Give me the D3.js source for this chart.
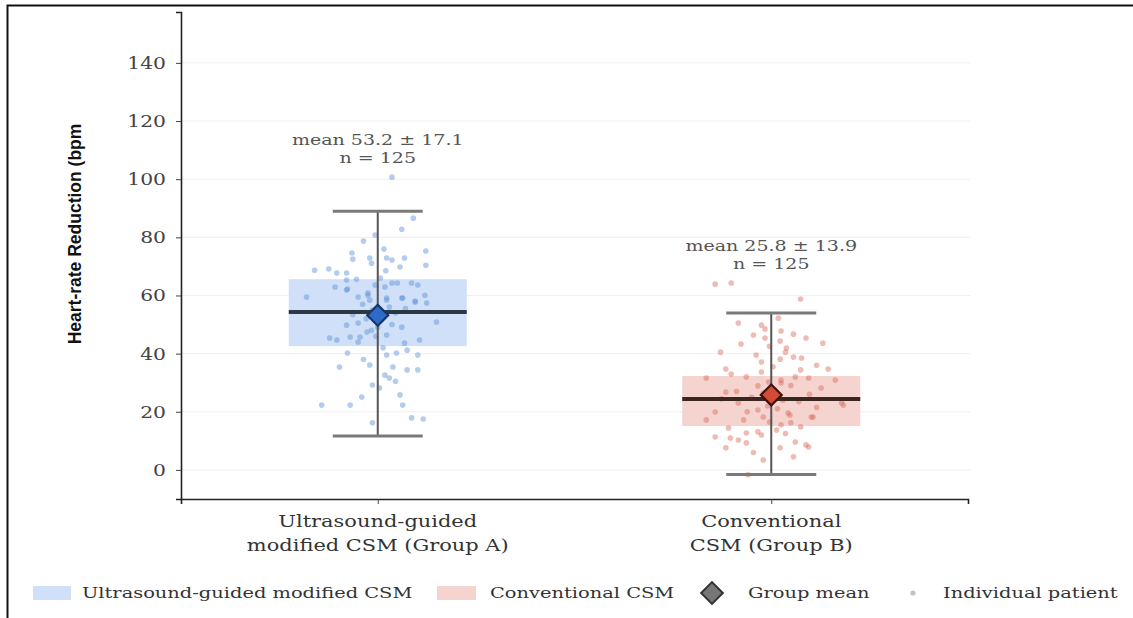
<!DOCTYPE html>
<html>
<head>
  <meta charset="utf-8">
  <title>Heart-rate reduction by group</title>
  <script src="https://d3js.org/d3.v7.min.js"></script>
  <style>
    body { margin: 0; background: #fff; }
    text { font-family: "DejaVu Serif", serif; }
  </style>
</head>
<body>
<script>
// ---- data ----
var groups = ['Ultrasound-guided\nmodified CSM (Group A)', 'Conventional\nCSM (Group B)'];
var legendLabels = ['Ultrasound-guided modified CSM', 'Conventional CSM', 'Group mean', 'Individual patient'];
var means = [53.2, 25.8];
var sds = [17.1, 13.9];
var counts = [125, 125];
var q1 = [42.6, 15.1];
var medians = [54.3, 24.4];
var q3 = [65.6, 32.3];
var whiskerLow = [11.7, -1.6];
var whiskerHigh = [89.0, 54.0];
var yTicks = [0, 20, 40, 60, 80, 100, 120, 140];

// individual patients: value (bpm) and horizontal jitter (fraction of box half-width)
var groupAValues = [100.7, 86.6, 82.8, 78.7, 80.8, 74.6, 72.5, 75.3, 70.4, 72.9, 69.8, 72.9, 71.1, 72.9, 72.2,
  68.7, 69.1, 67.7, 67.7, 65.3, 65.6, 62.9, 62.2, 59.5, 59.5, 60.1, 63.6, 62.9, 64.3, 64.3, 64.3, 63.6, 60.1,
  57.4, 58.1, 59.1, 59.1, 61.9, 60.8, 58.4, 58.4, 59.1, 57.7, 50.9, 49.1, 46.4, 47.4, 45.7, 49.8, 50.5, 45.7,
  45.4, 44.7, 49.1, 44.0, 44.7, 43.6, 40.2, 39.5, 40.2, 41.2, 39.5, 35.4, 36.1, 35.4, 34.4, 34.4, 32.6, 31.6,
  29.2, 28.2, 25.1, 25.8, 22.3, 22.3, 22.3, 17.9, 17.5, 16.2, 55.0, 53.0, 52.0, 56.0, 51.5, 54.0, 48.0, 57.0,
  53.5, 55.5, 50.0, 46.0, 42.0, 38.0, 30.5, 66.0, 68.5, 76.0];
var groupAJitter = [0.16, 0.40, 0.27, -0.16, -0.03, -0.29, -0.28, 0.54, 0.54, 0.30, 0.25, -0.09, -0.07, 0.10, 0.16,
  -0.71, -0.55, -0.46, -0.35, -0.35, -0.24, -0.48, -0.34, -0.80, -0.22, -0.11, -0.03, 0.08, 0.16, 0.22, 0.38, 0.45, 0.53,
  0.55, 0.42, 0.28, 0.10, -0.35, -0.11, -0.09, 0.10, 0.27, 0.42, 0.66, 0.27, 0.10, -0.12, -0.20, -0.35, -0.22, -0.31,
  -0.54, -0.46, 0.00, -0.22, 0.47, 0.30, -0.34, 0.10, 0.21, 0.33, 0.45, -0.43, -0.09, 0.17, 0.33, 0.45, 0.08, 0.13,
  -0.06, 0.02, -0.18, 0.25, -0.63, -0.31, 0.28, 0.38, 0.51, -0.06, -0.06, 0.07, -0.13, 0.13, 0.03, 0.20, -0.07, -0.17,
  -0.28, 0.31, 0.16, -0.02, 0.06, -0.16, 0.20, 0.03, 0.09, 0.07];
var groupBValues = [63.9, 64.3, 58.8, 50.5, 49.8, 48.5, 52.2, 47.8, 46.7, 45.4, 43.6, 46.4, 45.4, 44.3, 43.3,
  41.9, 40.5, 39.5, 40.5, 37.1, 38.1, 38.8, 38.5, 34.7, 33.7, 34.4, 34.7, 31.6, 32.0, 30.9, 32.0, 31.6, 30.9,
  26.8, 29.9, 28.2, 23.0, 19.9, 17.2, 23.0, 20.6, 18.2, 19.6, 18.2, 16.2, 14.8, 14.4, 11.3, 11.0, 10.3, 12.7,
  13.1, 9.3, 7.6, 13.7, 7.6, 9.6, 8.6, 3.4, 4.5, -1.7, 30.2, 28.9, 17.2, 12.0, 18.9, 7.9, 22.3, 18.2, 26.5,
  24.0, 22.0, 27.5, 21.0, 25.0, 29.0, 20.0, 23.5, 26.0, 16.5, 15.5, 35.5, 42.5, 24.5, 27.0, 21.5, 12.5, 6.0,
  36.0, 33.0];
var groupBJitter = [-0.63, -0.45, 0.33, -0.37, -0.11, -0.07, 0.08, 0.11, 0.25, 0.39, 0.58, -0.20, -0.07, 0.10, -0.34,
  0.17, -0.57, -0.17, 0.16, -0.11, 0.10, 0.25, 0.34, -0.51, -0.11, 0.33, 0.64, -0.73, -0.28, 0.11, 0.27, 0.42, 0.72,
  -0.51, 0.11, 0.56, 0.79, -0.63, -0.73, -0.37, -0.15, -0.09, 0.19, 0.45, 0.22, 0.33, -0.48, -0.63, -0.46, -0.37, -0.28,
  -0.15, -0.28, -0.51, 0.06, 0.10, 0.27, 0.39, -0.09, 0.25, -0.26, -0.03, -0.15, -0.31, -0.11, 0.21, 0.42, 0.81, 0.47,
  -0.09, 0.13, -0.04, 0.04, 0.07, -0.22, 0.22, -0.27, 0.31, 0.43, -0.02, 0.11, 0.02, -0.02, -0.56, -0.39, 0.51, 0.16,
  -0.20, 0.51, -0.45];

var boxFill = ['#cfe0f8', '#f5d4d0'];
var dotFill = ['#5a90d4', '#d86a5c'];
var meanFill = ['#2c6cc6', '#d24c36'];
var meanStroke = ['#153766', '#3d130c'];
var medianStroke = ['#2b3743', '#3b2622'];

var width = 1133, height = 618;
var stretch = 1.27; // the figure's lettering is drawn wide
var svg = d3.select('body').append('svg').attr('width', width).attr('height', height);

// text placed at (tx, ty), widened horizontally
function wideText(parent, tx, ty, str, anchor) {
  return parent.append('text')
    .attr('transform', 'translate(' + tx + ',' + ty + ') scale(' + stretch + ',1)')
    .attr('text-anchor', anchor || 'start')
    .text(str);
}

// outer frame (top and left edges only)
svg.append('path').attr('d', 'M7.5,' + height + 'V5.5H' + width)
  .attr('fill', 'none').attr('stroke', '#111').attr('stroke-width', 2);

var plotLeft = 181, plotRight = 968, plotTop = 12, plotBottom = 499;
var y = d3.scaleLinear().domain([-10, 157.5]).range([plotBottom, plotTop]);
var x = d3.scalePoint().domain(groups).range([plotLeft, plotRight]).padding(0.5);
var boxHalf = 89, capHalf = 45;

// grid
svg.append('g').selectAll('line').data(yTicks).enter().append('line')
  .attr('x1', plotLeft).attr('x2', plotRight + 2)
  .attr('y1', function (d) { return y(d); }).attr('y2', function (d) { return y(d); })
  .attr('stroke', '#efefef').attr('stroke-width', 1);

// axes
var yAxis = svg.append('g').attr('transform', 'translate(' + plotLeft + ',0)')
  .call(d3.axisLeft(y).tickValues(yTicks).tickSizeOuter(0).tickSize(5).tickFormat(''));
yAxis.select('.domain').attr('stroke', '#222').attr('stroke-width', 1.6);
yAxis.selectAll('.tick line').attr('stroke', '#444');
var yLab = svg.append('g').attr('font-size', 16).attr('fill', '#444');
yTicks.forEach(function (t) { wideText(yLab, plotLeft - 15, y(t) + 6, d3.format('d')(t), 'end'); });

var xAxis = svg.append('g').attr('transform', 'translate(0,' + plotBottom + ')')
  .call(d3.axisBottom(x).tickSizeOuter(0).tickSize(5).tickFormat(''));
xAxis.select('.domain').attr('stroke', '#222').attr('stroke-width', 1.6);
xAxis.selectAll('.tick line').attr('stroke', '#444');

var xLab = svg.append('g').attr('font-size', 16.5).attr('fill', '#333');
groups.forEach(function (g) {
  g.split('\n').forEach(function (line, i) {
    wideText(xLab, x(g), plotBottom + 28 + i * 24, line, 'middle');
  });
});

svg.append('text')
  .attr('transform', 'translate(81,234) rotate(-90)')
  .attr('text-anchor', 'middle')
  .style('font-family', '"Liberation Sans Narrow", "Liberation Sans", sans-serif')
  .attr('font-size', 17.5).attr('font-weight', 'bold').attr('fill', '#111')
  .text('Heart-rate Reduction (bpm');

// boxes
var gi = d3.range(groups.length);
svg.append('g').selectAll('rect').data(gi).enter().append('rect')
  .attr('x', function (i) { return x(groups[i]) - boxHalf; })
  .attr('width', boxHalf * 2)
  .attr('y', function (i) { return y(q3[i]); })
  .attr('height', function (i) { return y(q1[i]) - y(q3[i]); })
  .attr('fill', function (i) { return boxFill[i]; });

// patients
var pts = [];
groupAValues.forEach(function (v, k) { pts.push({ g: 0, v: v, j: groupAJitter[k] }); });
groupBValues.forEach(function (v, k) { pts.push({ g: 1, v: v, j: groupBJitter[k] }); });
svg.append('g').selectAll('circle').data(pts).enter().append('circle')
  .attr('cx', function (d) { return x(groups[d.g]) + d.j * boxHalf; })
  .attr('cy', function (d) { return y(d.v); })
  .attr('r', 2.8)
  .attr('fill', function (d) { return dotFill[d.g]; })
  .attr('fill-opacity', 0.45);

// whiskers and medians
var wg = svg.append('g');
gi.forEach(function (i) {
  var cx = x(groups[i]);
  wg.append('line').attr('x1', cx).attr('x2', cx)
    .attr('y1', y(whiskerLow[i])).attr('y2', y(whiskerHigh[i]))
    .attr('stroke', '#555').attr('stroke-width', 2);
  [whiskerLow[i], whiskerHigh[i]].forEach(function (w) {
    wg.append('line').attr('x1', cx - capHalf).attr('x2', cx + capHalf)
      .attr('y1', y(w)).attr('y2', y(w))
      .attr('stroke', '#7a7a7a').attr('stroke-width', 3);
  });
  wg.append('line').attr('x1', cx - boxHalf).attr('x2', cx + boxHalf)
    .attr('y1', y(medians[i])).attr('y2', y(medians[i]))
    .attr('stroke', medianStroke[i]).attr('stroke-width', 4);
});

// means
var diamond = d3.symbol().type(d3.symbolDiamond2).size(280);
svg.append('g').selectAll('path').data(gi).enter().append('path')
  .attr('d', diamond)
  .attr('transform', function (i) { return 'translate(' + x(groups[i]) + ',' + y(means[i]) + ')'; })
  .attr('fill', function (i) { return meanFill[i]; })
  .attr('stroke', function (i) { return meanStroke[i]; })
  .attr('stroke-width', 2.2);

// annotations above the highest patient
var maxVals = [d3.max(groupAValues), d3.max(groupBValues)];
var ann = svg.append('g').attr('font-size', 15).attr('fill', '#555');
gi.forEach(function (i) {
  var ty = y(maxVals[i]);
  wideText(ann, x(groups[i]), ty - 32, 'mean ' + means[i].toFixed(1) + ' \u00b1 ' + sds[i].toFixed(1), 'middle');
  wideText(ann, x(groups[i]), ty - 14, 'n = ' + counts[i], 'middle');
});

// legend
var ly = 593;
var lg = svg.append('g').attr('font-size', 15.3).attr('fill', '#333');
lg.append('rect').attr('x', 33).attr('y', ly - 7).attr('width', 38).attr('height', 14).attr('fill', boxFill[0]);
wideText(lg, 82, ly + 5, legendLabels[0]);
lg.append('rect').attr('x', 437).attr('y', ly - 7).attr('width', 39).attr('height', 14).attr('fill', boxFill[1]);
wideText(lg, 490, ly + 5, legendLabels[1]);
lg.append('path').attr('d', d3.symbol().type(d3.symbolDiamond2).size(300))
  .attr('transform', 'translate(712,' + ly + ')').attr('fill', '#777').attr('stroke', '#333').attr('stroke-width', 2);
wideText(lg, 748, ly + 5, legendLabels[2]);
lg.append('circle').attr('cx', 913).attr('cy', ly).attr('r', 2.6).attr('fill', '#999').attr('fill-opacity', 0.6);
wideText(lg, 943, ly + 5, legendLabels[3]);
</script>
</body>
</html>
